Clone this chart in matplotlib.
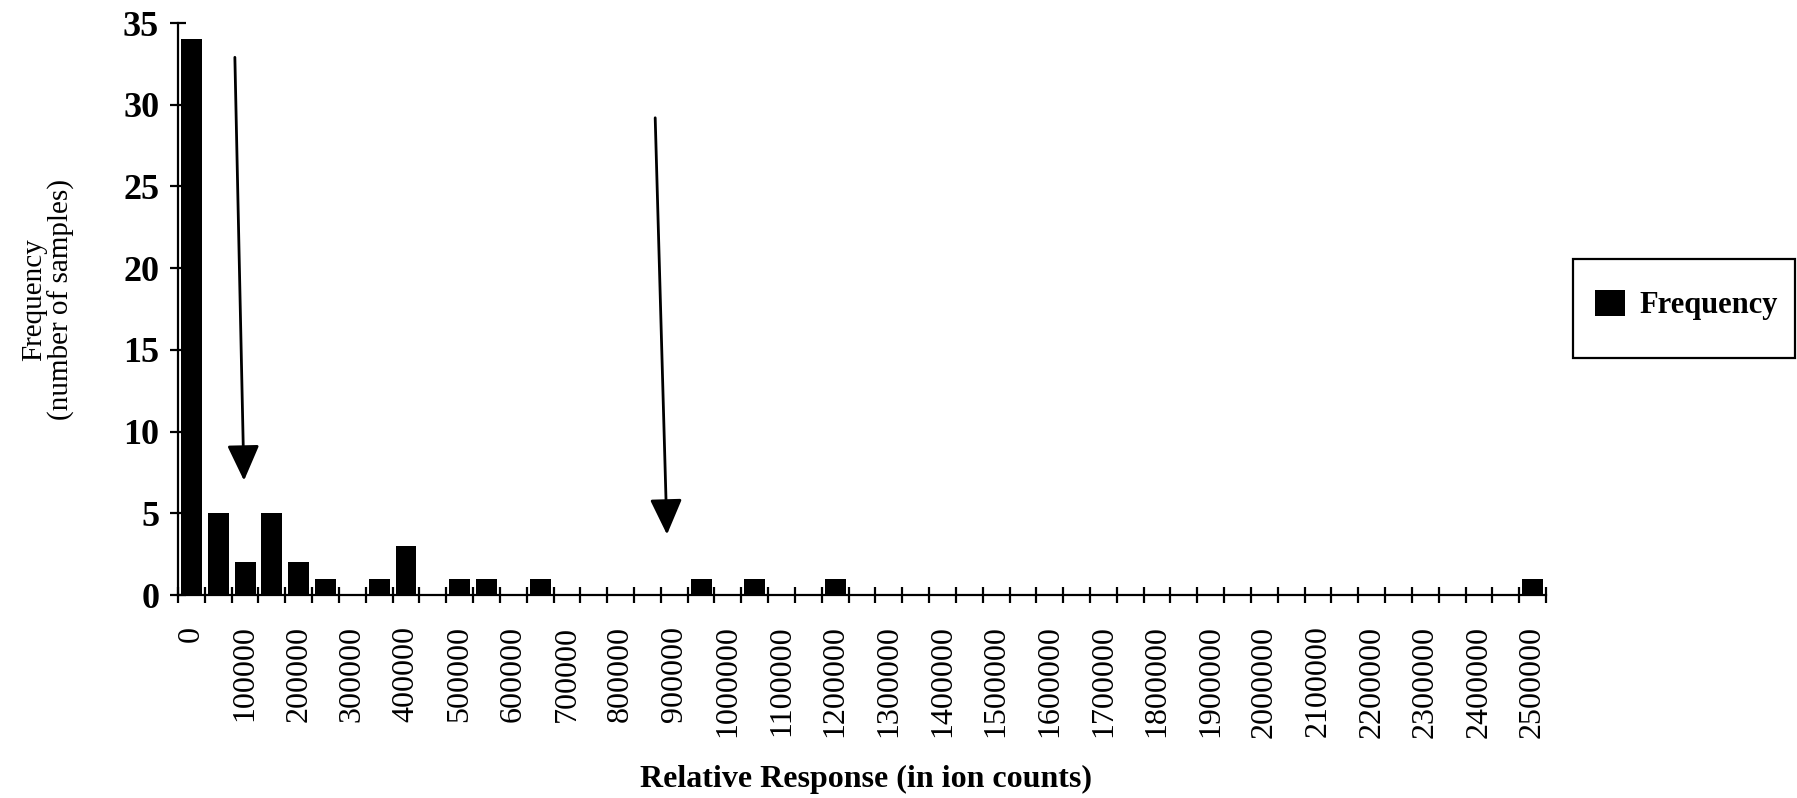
import matplotlib
matplotlib.use("Agg")
import matplotlib.pyplot as plt
from matplotlib.patches import Rectangle
import numpy as np

# ---- data ----
bin_starts = [i * 50000 for i in range(51)]          # categories 0, 50000, ..., 2500000
frequency = [34, 5, 2, 5, 2, 1, 0, 1, 3, 0,
             1, 1, 0, 1, 0, 0, 0, 0, 0, 1,
             0, 1, 0, 0, 1, 0, 0, 0, 0, 0,
             0, 0, 0, 0, 0, 0, 0, 0, 0, 0,
             0, 0, 0, 0, 0, 0, 0, 0, 0, 0,
             1]
tick_labels = [str(v) for v in bin_starts]
y_ticks = [0, 5, 10, 15, 20, 25, 30, 35]
# arrow annotations (category index, frequency)
arrow1 = ((1.62, 32.9), (1.96, 7.0))
arrow2 = ((17.29, 29.2), (17.73, 3.7))

plt.rcParams['font.family'] = ['Liberation Serif', 'DejaVu Serif']

W, H = 1797, 798
fig = plt.figure(figsize=(W / 100, H / 100), dpi=100)
left, right, bottom_px, top_px = 178, 1546, 595, 23
ax = fig.add_axes([left / W, 1 - bottom_px / H, (right - left) / W, (bottom_px - top_px) / H])

x = np.arange(len(bin_starts))
bars = ax.bar(x, frequency, width=0.78, color='black', label='Frequency', zorder=3)

ax.set_xlim(-0.5, len(bin_starts) - 0.5)
ax.set_ylim(0, 35)

for s in ['top', 'right']:
    ax.spines[s].set_visible(False)
for s in ['left', 'bottom']:
    ax.spines[s].set_linewidth(1.6)

# x: labels every other category, tick marks at category boundaries
ax.set_xticks(x[::2])
ax.set_xticklabels(tick_labels[::2], rotation=90, fontsize=23)
ax.tick_params(axis='x', which='major', length=0, pad=22)
ax.set_xticks(np.arange(-0.5, len(bin_starts) + 0.5, 1.0), minor=True)
ax.tick_params(axis='x', which='minor', direction='inout', length=11, width=1.6)

ax.set_yticks(y_ticks)
ax.set_yticklabels([str(v) for v in y_ticks], fontsize=26, fontweight='bold')
ax.tick_params(axis='y', which='major', direction='inout', length=11, width=1.6, pad=8)

# arrows
for (s, e) in (arrow1, arrow2):
    ax.annotate('', xy=e, xytext=s,
                arrowprops=dict(arrowstyle='-|>,head_length=1.1,head_width=0.5',
                                lw=2, color='black', mutation_scale=20,
                                shrinkA=0, shrinkB=0))

# axis titles
fig.text(48 / W, 1 - 300 / H, 'Frequency\n(number of samples)', rotation=90,
         ha='center', va='center', multialignment='center', fontsize=21, linespacing=1.0)
fig.text(866 / W, 1 - 779 / H, 'Relative Response (in ion counts)',
         ha='center', va='center', fontsize=23, fontweight='bold')

# legend
lx0, ly0, lx1, ly1 = 1573, 259, 1795, 358
fig.patches.append(Rectangle((lx0 / W, 1 - ly1 / H), (lx1 - lx0) / W, (ly1 - ly0) / H,
                             transform=fig.transFigure, fill=False, edgecolor='black', lw=1.6))
leg = fig.legend(handles=[bars], labels=['Frequency'], loc='center left',
                 bbox_to_anchor=(1586 / W, 1 - 305 / H), frameon=False,
                 prop={'size': 22, 'weight': 'bold'}, handlelength=0.98, handleheight=0.98,
                 handletextpad=0.46, borderpad=0.3, borderaxespad=0)

fig.savefig('out.png', dpi=100, facecolor='white')
